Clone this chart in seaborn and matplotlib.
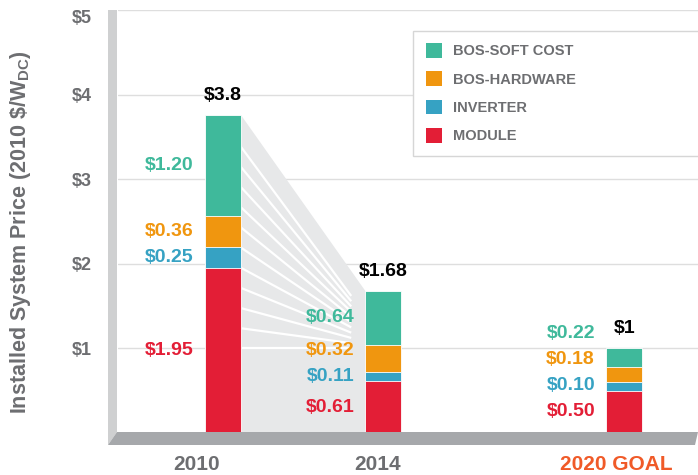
import numpy as np
import pandas as pd
import matplotlib
matplotlib.use("Agg")
import matplotlib.pyplot as plt
from matplotlib.patches import Polygon, Patch
import seaborn as sns

# data
years = [2010, 2014, 2020]
year_labels = ["2010", "2014", "2020 GOAL"]
components = ["MODULE", "INVERTER", "BOS-HARDWARE", "BOS-SOFT COST"]
module = [1.95, 0.61, 0.50]
inverter = [0.25, 0.11, 0.10]
hardware = [0.36, 0.32, 0.18]
soft = [1.20, 0.64, 0.22]
total_labels = ["$3.8", "$1.68", "$1"]
yticks = [1, 2, 3, 4, 5]
ytick_labels = ["$1", "$2", "$3", "$4", "$5"]

COLORS = {
    "MODULE": "#e31e36",
    "INVERTER": "#36a2c3",
    "BOS-HARDWARE": "#f0960f",
    "BOS-SOFT COST": "#3fb99b",
}
GRAY_TXT = "#6d6e71"
W, H = 698, 475

sns.set_theme(style="white")
plt.rcParams['font.family'] = ['Liberation Sans', 'DejaVu Sans']
plt.rcParams['font.weight'] = 'bold'
plt.rcParams['mathtext.default'] = 'regular'

fig = plt.figure(figsize=(W / 100, H / 100), dpi=100)
ax = fig.add_axes([118 / W, (H - 433) / H, (W - 118) / W, 423 / H])

df = pd.DataFrame({"year": years, "MODULE": module, "INVERTER": inverter,
                   "BOS-HARDWARE": hardware, "BOS-SOFT COST": soft})
cum = df[components].cumsum(axis=1)
bar_w_years = 0.9
half = bar_w_years / 2

# grid lines
for t in yticks:
    ax.axhline(t, color="#dedede", lw=1, zorder=0)

# grey fan between 2010 and 2014 bars
x0 = years[0] + half
x1 = years[1] - half
tot = cum["BOS-SOFT COST"].values
ax.add_patch(Polygon([(x0, tot[0]), (x1, tot[1]), (x1, 0), (x0, 0)],
                     closed=True, color="#e7e8e9", lw=0, zorder=0.5))
ray_start = np.linspace(tot[0] * 0.9, 1.0, 11)
ray_end = np.linspace(1.62, 1.0, 11)
for ys, ye in zip(ray_start, ray_end):
    ax.plot([x0, x1 - 0.35], [ys, ye], color="white", lw=1.6, zorder=0.6,
            solid_capstyle="butt")

# stacked bars: draw cumulative totals, tallest first
for comp in components[::-1]:
    sns.barplot(x=df["year"], y=cum[comp], native_scale=True, width=bar_w_years / 4,
                color=COLORS[comp], saturation=1, errorbar=None, ax=ax,
                edgecolor="white", linewidth=0.6, zorder=2)

# segment labels (stacked with a minimum spacing)
min_gap = 0.31
for i, yr in enumerate(years):
    prev = -1
    bottom = 0
    for comp in components:
        v = df.loc[i, comp]
        y = max(bottom + v / 2, prev + min_gap)
        prev = y
        bottom += v
        ax.annotate(f"${v:.2f}", xy=(yr - half, y), xytext=(-8, 0),
                    textcoords="offset points", ha="right", va="center",
                    fontsize=14, fontweight="bold", color=COLORS[comp], zorder=5)
    ax.annotate(total_labels[i], xy=(yr, tot[i]), xytext=(0, 8),
                textcoords="offset points", ha="center", va="bottom",
                fontsize=14, fontweight="bold", color="black")

# x labels under the floor
x_offsets = [-18.7, -4.3, -5.8]
x_colors = [GRAY_TXT, GRAY_TXT, "#f05a28"]
for yr, lab, dx, c in zip(years, year_labels, x_offsets, x_colors):
    ax.annotate(lab, xy=(yr, 0), xycoords=("data", "axes fraction"),
                xytext=(dx, -23), textcoords="offset points", ha="center",
                va="center", fontsize=15, fontweight="bold", color=c)

ax.set_xlim(years[0] - 105 / 40.2, years[2] + 74 / 40.2)
ax.set_ylim(0, 5)
ax.set_xticks([])
ax.set_yticks(yticks)
ax.set_yticklabels(ytick_labels, fontsize=13, fontweight="bold", color=GRAY_TXT)
ax.get_yticklabels()[-1].set_verticalalignment("top")
ax.tick_params(axis="y", length=0, pad=19)
ax.set_xlabel("")
ax.set_ylabel("")
for s in ax.spines.values():
    s.set_visible(False)

fig.text(21 / W, 1 - 232 / H, r"Installed System Price (2010 \$/W$_{DC}$)",
         rotation=90, ha="center", va="center", fontsize=15.5,
         fontweight="bold", color=GRAY_TXT)


def px(x, y):
    return (x / W, 1 - y / H)


# left wall and floor
fig.add_artist(Polygon([px(108, 10), px(117, 10), px(117, 432), px(108, 445)],
                       closed=True, transform=fig.transFigure, color="#cfd0d1", lw=0))
fig.add_artist(Polygon([px(117, 432), px(698, 432), px(695, 445), px(108, 445)],
                       closed=True, transform=fig.transFigure, color="#a6a8ab", lw=0))

handles = [Patch(facecolor=COLORS[c], edgecolor="none", label=c) for c in components[::-1]]
leg = ax.legend(handles=handles, loc="upper left", mode="expand",
                bbox_to_anchor=(0.509, 0.3, 0.52, 0.651), borderaxespad=0,
                fontsize=10.5, handlelength=1.15, handleheight=1.15,
                handletextpad=0.75, labelspacing=0.9, borderpad=0.85,
                fancybox=False, framealpha=1, edgecolor="#d6d6d6")
leg.get_frame().set_linewidth(1)
for t in leg.get_texts():
    t.set_color(GRAY_TXT)
    t.set_fontweight("bold")

fig.savefig("out.png", dpi=100)
